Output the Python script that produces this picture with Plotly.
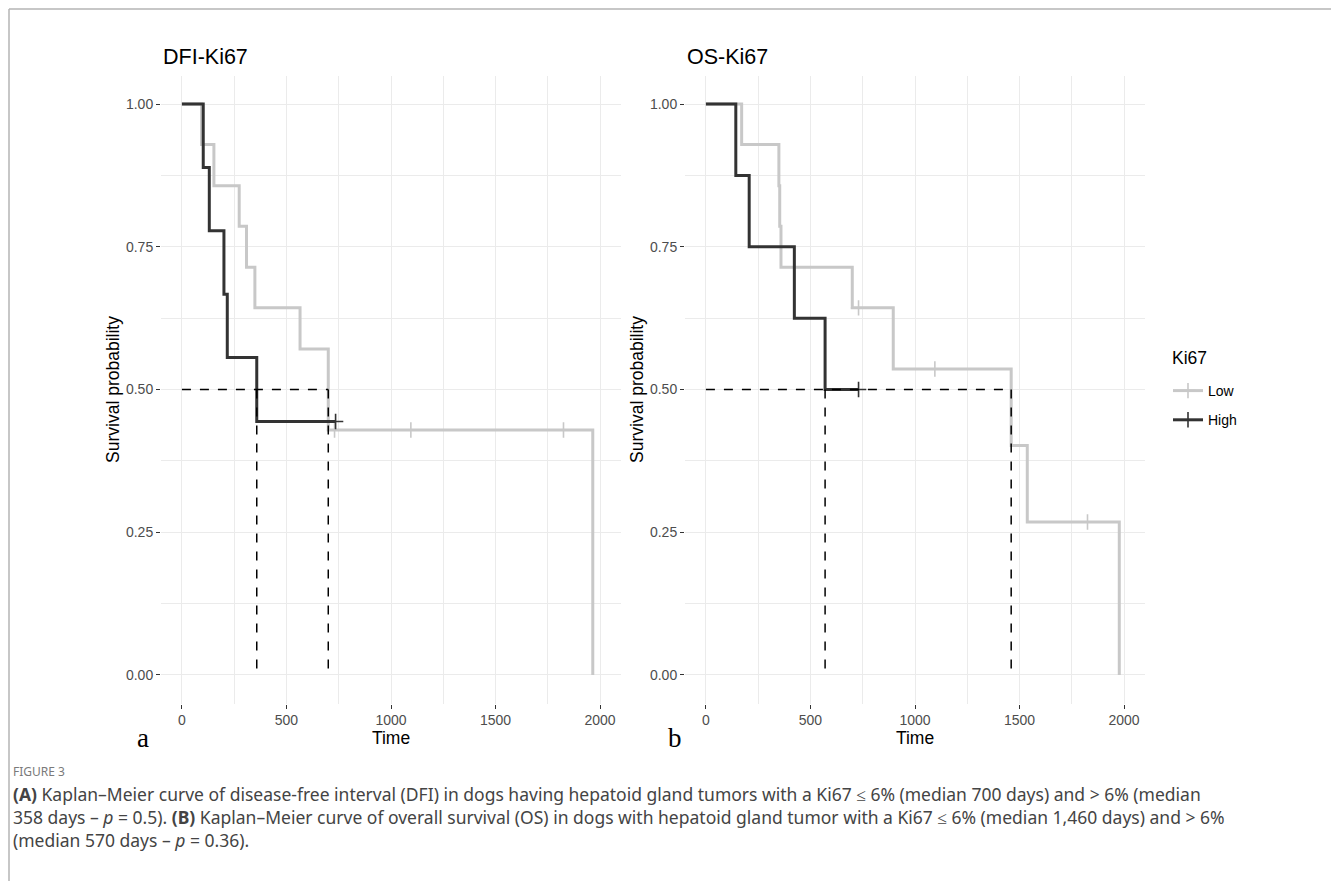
import plotly.graph_objects as go

# ---------------- data ----------------
x_ticks = [0, 500, 1000, 1500, 2000]
y_ticks = [0, 0.25, 0.5, 0.75, 1.0]
y_tick_labels = ["0.00", "0.25", "0.50", "0.75", "1.00"]
groups = ["Low", "High"]
legend_title = "Ki67"

# DFI (panel a)
dfi_low_time = [0, 94, 153, 274, 309, 349, 565, 700, 1965]
dfi_low_surv = [1.0, 0.929, 0.857, 0.786, 0.714, 0.643, 0.571, 0.429, 0.0]
dfi_low_cens_time = [730, 1095, 1825]
dfi_low_cens_surv = [0.429, 0.429, 0.429]

dfi_high_time = [0, 102, 131, 201, 217, 358, 735]
dfi_high_surv = [1.0, 0.889, 0.778, 0.667, 0.556, 0.444, 0.444]
dfi_high_cens_time = [735]
dfi_high_cens_surv = [0.444]

dfi_medians = [358, 700]

# OS (panel b)
os_low_time = [0, 171, 349, 353, 359, 700, 896, 1460, 1537, 1977]
os_low_surv = [1.0, 0.929, 0.857, 0.786, 0.714, 0.643, 0.536, 0.402, 0.268, 0.0]
os_low_cens_time = [730, 1095, 1825]
os_low_cens_surv = [0.643, 0.536, 0.268]

os_high_time = [0, 143, 207, 423, 570, 730]
os_high_surv = [1.0, 0.875, 0.75, 0.625, 0.5, 0.5]
os_high_cens_time = [730]
os_high_cens_surv = [0.5]

os_medians = [570, 1460]

panel_titles = ["DFI-Ki67", "OS-Ki67"]
panel_letters = ["a", "b"]

caption_head = "FIGURE 3"
caption_lines = [
    "<b>(A)</b> Kaplan\u2013Meier curve of disease-free interval (DFI) in dogs having hepatoid gland tumors with a Ki67 \u2264 6% (median 700 days) and > 6% (median",
    "358 days \u2013 <i>p</i> = 0.5). <b>(B)</b> Kaplan\u2013Meier curve of overall survival (OS) in dogs with hepatoid gland tumor with a Ki67 \u2264 6% (median 1,460 days) and > 6%",
    "(median 570 days \u2013 <i>p</i> = 0.36).",
]

# ---------------- style ----------------
W, H = 1331, 881
LOW_COLOR = "#c8c8c8"
HIGH_COLOR = "#333333"
GRID = "#ebebeb"
FONT = "Liberation Sans, Arial, sans-serif"

def px_x(p):
    return p / W

def px_y(p):
    return 1 - p / H

fig = go.Figure()

panels = [
    dict(xa="x", ya="y",
         low=(dfi_low_time, dfi_low_surv, dfi_low_cens_time, dfi_low_cens_surv),
         high=(dfi_high_time, dfi_high_surv, dfi_high_cens_time, dfi_high_cens_surv),
         med=dfi_medians),
    dict(xa="x2", ya="y2",
         low=(os_low_time, os_low_surv, os_low_cens_time, os_low_cens_surv),
         high=(os_high_time, os_high_surv, os_high_cens_time, os_high_cens_surv),
         med=os_medians),
]

for p in panels:
    for key, color in (("low", LOW_COLOR), ("high", HIGH_COLOR)):
        t, s, ct, cs = p[key]
        fig.add_trace(go.Scatter(x=t, y=s, mode="lines", line=dict(color=color, width=3, shape="hv"),
                                 xaxis=p["xa"], yaxis=p["ya"], showlegend=False, hoverinfo="skip"))
        fig.add_trace(go.Scatter(x=ct, y=cs, mode="markers",
                                 marker=dict(symbol="cross-thin", size=11, line=dict(color=color, width=1.6)),
                                 xaxis=p["xa"], yaxis=p["ya"], showlegend=False, hoverinfo="skip"))
    # median lines
    meds = p["med"]
    fig.add_trace(go.Scatter(x=[0, max(meds)], y=[0.5, 0.5], mode="lines",
                             line=dict(color="black", width=1.5, dash="dash"),
                             xaxis=p["xa"], yaxis=p["ya"], showlegend=False, hoverinfo="skip"))
    for m in meds:
        fig.add_trace(go.Scatter(x=[m, m], y=[0.5, 0], mode="lines",
                                 line=dict(color="black", width=1.5, dash="dash"),
                                 xaxis=p["xa"], yaxis=p["ya"], showlegend=False, hoverinfo="skip"))

# legend entries
for g, color in zip(groups, (LOW_COLOR, HIGH_COLOR)):
    fig.add_trace(go.Scatter(x=[None], y=[None], mode="lines+markers", name=g, legendgroup=g,
                             line=dict(color=color, width=3),
                             marker=dict(symbol="cross-thin", size=11, line=dict(color=color, width=1.6)),
                             xaxis="x2", yaxis="y2"))

y_dom = [px_y(703.5), px_y(75.5)]
x_doms = [[px_x(161), px_x(621)], [px_x(685), px_x(1145)]]

axis_common_x = dict(range=[-100, 2100], tickvals=x_ticks, ticks="outside", ticklen=4, tickwidth=1,
                     tickcolor="#333333", showgrid=True, gridcolor=GRID, gridwidth=1.3, zeroline=False,
                     showline=False, tickfont=dict(family=FONT, size=14, color="#4d4d4d"),
                     minor=dict(dtick=250, tick0=0, showgrid=True, gridcolor=GRID, gridwidth=1.1, ticks=""),
                     title=dict(text="Time", font=dict(family=FONT, size=17.5, color="black"), standoff=2),
                     fixedrange=True)
axis_common_y = dict(range=[-0.05, 1.05], tickvals=y_ticks, ticktext=y_tick_labels, ticks="outside",
                     ticklen=4, tickwidth=1, tickcolor="#333333", showgrid=True, gridcolor=GRID,
                     gridwidth=1.3, zeroline=False, showline=False,
                     tickfont=dict(family=FONT, size=14, color="#4d4d4d"),
                     minor=dict(dtick=0.125, tick0=0, showgrid=True, gridcolor=GRID, gridwidth=1.1, ticks=""),
                     title=dict(text="Survival probability", font=dict(family=FONT, size=17.5, color="black"),
                                standoff=1),
                     fixedrange=True)

fig.update_layout(
    width=W, height=H,
    margin=dict(l=0, r=0, t=0, b=0),
    paper_bgcolor="white", plot_bgcolor="white",
    xaxis=dict(domain=x_doms[0], anchor="y", **axis_common_x),
    yaxis=dict(domain=y_dom, anchor="x", **axis_common_y),
    xaxis2=dict(domain=x_doms[1], anchor="y2", **axis_common_x),
    yaxis2=dict(domain=y_dom, anchor="x2", **axis_common_y),
    legend=dict(x=px_x(1168), y=px_y(375), xanchor="left", yanchor="top",
                font=dict(family=FONT, size=14, color="black"), itemwidth=30,
                traceorder="grouped", tracegroupgap=8,
                bgcolor="rgba(0,0,0,0)"),
    font=dict(family=FONT),
)

annotations = []
for title, x0 in zip(panel_titles, (161, 685)):
    annotations.append(dict(text=title, x=px_x(x0), y=px_y(57), xref="paper", yref="paper",
                            xanchor="left", yanchor="middle", showarrow=False,
                            font=dict(family=FONT, size=21.5, color="black")))
for letter, x0 in zip(panel_letters, (143, 675)):
    annotations.append(dict(text=letter, x=px_x(x0), y=px_y(738), xref="paper", yref="paper",
                            xanchor="center", yanchor="middle", showarrow=False,
                            font=dict(family="Liberation Serif, DejaVu Serif, serif", size=27, color="black")))

# legend title
annotations.append(dict(text=legend_title, x=px_x(1170), y=px_y(358), xref="paper", yref="paper",
                        xanchor="left", yanchor="middle", showarrow=False,
                        font=dict(family=FONT, size=17.5, color="black")))

annotations.append(dict(text=caption_head, x=px_x(11), y=px_y(771), xref="paper", yref="paper",
                        xanchor="left", yanchor="middle", showarrow=False,
                        font=dict(family="Noto Sans", size=12, color="#7a7a7a")))
annotations.append(dict(text="<br>".join(caption_lines), x=px_x(11), y=px_y(780), xref="paper", yref="paper",
                        xanchor="left", yanchor="top", showarrow=False, align="left",
                        font=dict(family="Noto Sans", size=17.5, color="#444444")))
fig.update_layout(annotations=annotations)

# figure frame (top and left border)
fig.add_shape(type="line", xref="paper", yref="paper", x0=px_x(9), x1=1, y0=px_y(9), y1=px_y(9),
              line=dict(color="#b4b4b4", width=1.5))
fig.add_shape(type="line", xref="paper", yref="paper", x0=px_x(9), x1=px_x(9), y0=px_y(9), y1=0,
              line=dict(color="#b4b4b4", width=1.5))

fig.write_html("out.html", config={"displayModeBar": False},
               post_script="document.body.style.margin='0px';")
